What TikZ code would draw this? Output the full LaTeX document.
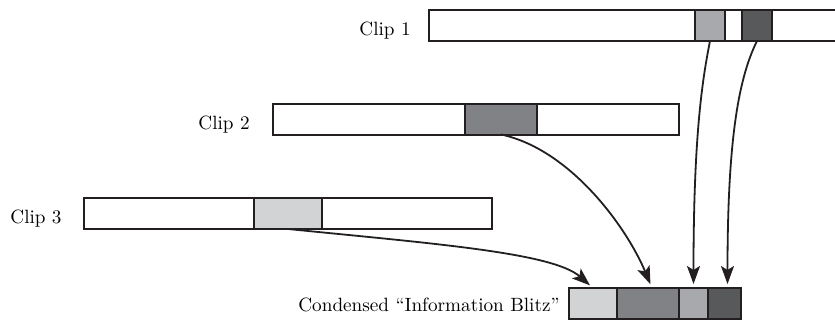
\documentclass[tikz,border=0pt]{standalone}
\usepackage{tikz}
\usetikzlibrary{arrows.meta, positioning}
\definecolor{ClipBorder}{HTML}{231F20}
\definecolor{ShadeLight}{HTML}{D1D3D4}
\definecolor{ShadeMid}{HTML}{808285}
\definecolor{ShadeSoft}{HTML}{A7A9AC}
\definecolor{ShadeDark}{HTML}{58595B}
\tikzset{
  % Bar styles
  clipbar/.style={rectangle, draw=ClipBorder, fill=white, line width=1pt, minimum height=15.5pt, inner sep=0pt, outer sep=0pt},
  segbox/.style={clipbar, fill=#1},
  % Label styles
  cliplabel/.style={font=\fontsize{9.6}{11}\selectfont, anchor=base east, inner sep=0pt},
  % Arrow styles
  cliparrow/.style={-{Stealth[length=9pt, width=6.5pt, inset=2pt]}, line width=0.9pt, ClipBorder, shorten >=2pt}
}

\begin{document}
\begin{tikzpicture}[x=0.5pt, y=-0.5pt]
  \useasboundingbox (0,0) rectangle (835,321);

  % Source clips
  \node[clipbar, minimum width=208pt] (clip1) at (637,25.5) {};
  \node[clipbar, minimum width=203pt] (clip2) at (476,119) {};
  \node[clipbar, minimum width=204pt] (clip3) at (288,213.5) {};

  % Selected pieces
  \node[segbox=ShadeSoft, minimum width=15pt] (seg1a) at (710,25.5) {};
  \node[segbox=ShadeDark, minimum width=15pt] (seg1b) at (757,25.5) {};
  \node[segbox=ShadeMid, minimum width=36pt] (seg2) at (501,119) {};
  \node[segbox=ShadeLight, minimum width=34pt] (seg3) at (288,213.5) {};

  % Condensed clip
  \node[segbox=ShadeLight, minimum width=24pt] (blitz1) at (593,303.5) {};
  \node[segbox=ShadeMid, minimum width=31pt, right=0pt of blitz1] (blitz2) {};
  \node[segbox=ShadeSoft, minimum width=14.5pt, right=0pt of blitz2] (blitz3) {};
  \node[segbox=ShadeDark, minimum width=16.5pt, right=0pt of blitz3] (blitz4) {};

  % Labels
  \node[cliplabel] (lab1) at ([xshift=-9pt, yshift=-5pt]clip1.west) {Clip 1};
  \node[cliplabel] (lab2) at ([xshift=-11.5pt, yshift=-5pt]clip2.west) {Clip 2};
  \node[cliplabel] (lab3) at ([xshift=-11pt, yshift=-5pt]clip3.west) {Clip 3};
  \node[cliplabel] (labblitz) at ([xshift=-4.5pt, yshift=-4pt]blitz1.west) {Condensed ``Information Blitz''};

  % Arrows
  \draw[cliparrow] (seg3.south) .. controls +(150,15) and +(-40,-35) .. (blitz1.north);
  \draw[cliparrow] (seg2.south) .. controls +(70,15) and +(-25,-60) .. ([xshift=2pt]blitz2.north);
  \draw[cliparrow] (seg1a.south) .. controls +(-8,40) and +(0,-150) .. (blitz3.north);
  \draw[cliparrow] (seg1b.south) .. controls +(-20,40) and +(0,-140) .. ([xshift=1.5pt]blitz4.north);
\end{tikzpicture}
\end{document}
